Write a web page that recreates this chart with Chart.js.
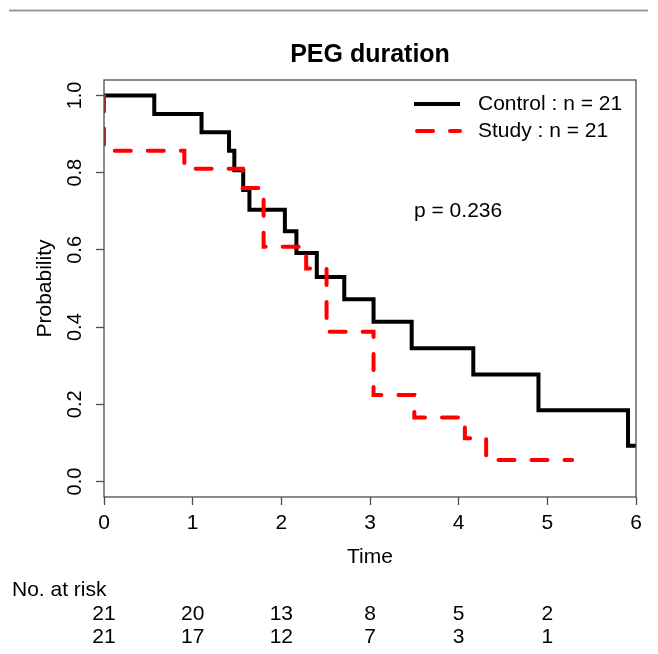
<!DOCTYPE html>
<html>
<head>
<meta charset="utf-8">
<script src="https://cdn.jsdelivr.net/npm/chart.js@4.4.1/dist/chart.umd.min.js"></script>
<style>
  body { margin: 0; background: #fff; }
  canvas { display: block; }
</style>
</head>
<body>
<canvas id="km" width="658" height="654"></canvas>
<script>
// Kaplan-Meier steps (time, survival)
const controlTime = [0, 0.567, 1.10, 1.41, 1.47, 1.57, 1.64, 2.04, 2.17, 2.40, 2.71, 3.04, 3.47, 4.165, 4.90, 5.91, 6.0];
const controlSurv = [1, 0.952, 0.905, 0.857, 0.806, 0.755, 0.704, 0.648, 0.592, 0.530, 0.472, 0.414, 0.345, 0.277, 0.185, 0.093, 0.093];

const studyTime = [0, 0, 0.906, 1.565, 1.80, 2.28, 2.51, 3.04, 3.50, 4.07, 4.31, 5.28];
const studySurv = [1, 0.857, 0.810, 0.760, 0.608, 0.552, 0.388, 0.224, 0.166, 0.112, 0.056, 0.056];

const xTicks = [0, 1, 2, 3, 4, 5, 6];
const yTicks = [0, 0.2, 0.4, 0.6, 0.8, 1.0];

const riskTimes = [0, 1, 2, 3, 4, 5];
const controlRisk = [21, 20, 13, 8, 5, 2];
const studyRisk = [21, 17, 12, 7, 3, 1];

const legendLabels = ['Control : n = 21', 'Study : n = 21'];
const pValueText = 'p = 0.236';
const chartTitle = 'PEG duration';

const FONT = '"Liberation Sans", Arial, sans-serif';
const TEXT_SIZE = 21;
const RED = '#ff0000';
const AXIS = '#4d4d4d';

function toPoints(times, surv) {
    return times.map((t, i) => ({ x: t, y: surv[i] }));
}

const decorations = {
    id: 'decorations',
    afterDraw(chart) {
        const ctx = chart.ctx;
        const area = chart.chartArea;
        const xs = chart.scales.x;
        const ys = chart.scales.y;
        ctx.save();

        // gray rule at the very top
        ctx.strokeStyle = '#9a9a9a';
        ctx.lineWidth = 2;
        ctx.beginPath();
        ctx.moveTo(9, 10.5);
        ctx.lineTo(648, 10.5);
        ctx.stroke();

        // plot box
        ctx.strokeStyle = AXIS;
        ctx.lineWidth = 1.3;
        ctx.strokeRect(area.left, area.top, area.right - area.left, area.bottom - area.top);

        ctx.fillStyle = '#000';
        ctx.textBaseline = 'middle';

        // title
        ctx.font = 'bold 25px ' + FONT;
        ctx.textAlign = 'center';
        ctx.fillText(chartTitle, (area.left + area.right) / 2, 55);

        // y tick labels, rotated like base R
        ctx.font = '20px ' + FONT;
        yTicks.forEach(v => {
            ctx.save();
            ctx.translate(75, ys.getPixelForValue(v));
            ctx.rotate(-Math.PI / 2);
            ctx.fillText(v.toFixed(1), 0, 0);
            ctx.restore();
        });

        ctx.font = TEXT_SIZE + 'px ' + FONT;

        // axis titles
        ctx.save();
        ctx.translate(45, (area.top + area.bottom) / 2);
        ctx.rotate(-Math.PI / 2);
        ctx.fillText('Probability', 0, 0);
        ctx.restore();
        ctx.fillText('Time', (area.left + area.right) / 2, 557);

        // legend
        const legendX = 414;
        const rows = [104, 131];
        ctx.lineWidth = 4;
        ctx.strokeStyle = '#000';
        ctx.beginPath();
        ctx.moveTo(legendX, rows[0]);
        ctx.lineTo(legendX + 46, rows[0]);
        ctx.stroke();
        ctx.strokeStyle = RED;
        ctx.lineCap = 'round';
        ctx.setLineDash([16, 17]);
        ctx.beginPath();
        ctx.moveTo(legendX + 3, rows[1]);
        ctx.lineTo(legendX + 46, rows[1]);
        ctx.stroke();
        ctx.setLineDash([]);
        ctx.lineCap = 'butt';
        ctx.textAlign = 'left';
        ctx.fillText(legendLabels[0], 478, rows[0]);
        ctx.fillText(legendLabels[1], 478, rows[1]);

        ctx.fillText(pValueText, 414, 211);

        // number at risk table
        ctx.fillText('No. at risk', 12, 590);
        ctx.textAlign = 'center';
        riskTimes.forEach((t, i) => {
            const px = xs.getPixelForValue(t);
            ctx.fillText(String(controlRisk[i]), px, 614);
            ctx.fillText(String(studyRisk[i]), px, 637);
        });

        ctx.restore();
    }
};

new Chart(document.getElementById('km'), {
    type: 'line',
    data: {
        datasets: [
            {
                label: legendLabels[0],
                data: toPoints(controlTime, controlSurv),
                borderColor: '#000',
                borderWidth: 4,
                stepped: 'before',
                pointRadius: 0,
                fill: false,
                order: 2,
            },
            {
                label: legendLabels[1],
                data: toPoints(studyTime, studySurv),
                borderColor: RED,
                borderWidth: 4,
                borderDash: [16, 17],
                borderCapStyle: 'round',
                stepped: 'before',
                pointRadius: 0,
                fill: false,
                order: 1,
            },
        ],
    },
    options: {
        responsive: false,
        animation: false,
        devicePixelRatio: 1,
        layout: { padding: { left: 0, top: 80, right: 22, bottom: 0 } },
        plugins: {
            legend: { display: false },
            tooltip: { enabled: false },
            title: { display: false },
        },
        scales: {
            x: {
                type: 'linear',
                min: 0,
                max: 6,
                afterBuildTicks: (scale) => { scale.ticks = xTicks.map(v => ({ value: v })); },
                afterFit: (scale) => { scale.height = 157; },
                border: { display: false },
                grid: { drawOnChartArea: false, drawTicks: true, tickLength: 8, tickColor: AXIS, tickWidth: 1.3 },
                ticks: { color: '#000', padding: 6, maxRotation: 0, font: { family: FONT, size: TEXT_SIZE } },
            },
            y: {
                type: 'linear',
                min: -0.04,
                max: 1.04,
                afterBuildTicks: (scale) => { scale.ticks = yTicks.map(v => ({ value: v })); },
                afterFit: (scale) => { scale.width = 104; },
                border: { display: false },
                grid: { drawOnChartArea: false, drawTicks: true, tickLength: 8, tickColor: AXIS, tickWidth: 1.3 },
                ticks: { display: false },
            },
        },
    },
    plugins: [decorations],
});
</script>
</body>
</html>
